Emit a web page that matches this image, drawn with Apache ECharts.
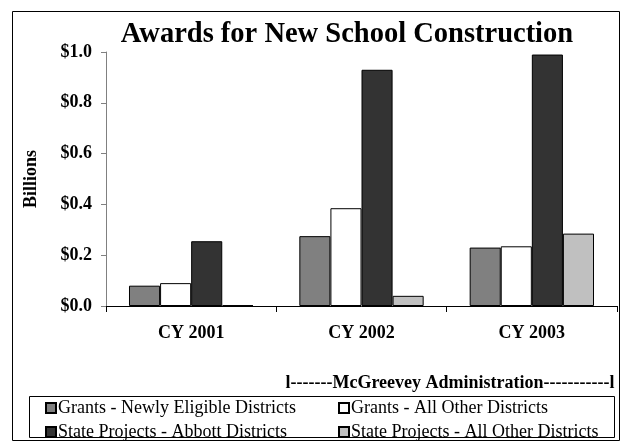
<!DOCTYPE html>
<html>
<head>
<meta charset="utf-8">
<script src="https://cdn.jsdelivr.net/npm/echarts@6/dist/echarts.min.js"></script>
<style>
  html, body { margin: 0; padding: 0; background: #fff; }
  #chart { width: 626px; height: 448px; }
</style>
</head>
<body>
<div id="chart"></div>
<script>
// Calendar years on the category axis
const years = ['CY 2001', 'CY 2002', 'CY 2003'];

// Award amounts, billions of dollars
const grantsNewlyEligible = [0.08, 0.275, 0.23];
const grantsAllOther = [0.09, 0.385, 0.235];
const stateAbbott = [0.255, 0.93, 0.99];
const stateAllOther = [0.003, 0.04, 0.285];

// Value axis ticks
const yTicks = [0, 0.2, 0.4, 0.6, 0.8, 1.0];

const seriesNames = [
  'Grants - Newly Eligible Districts',
  'Grants - All Other Districts',
  'State Projects - Abbott Districts',
  'State Projects - All Other Districts'
];
const seriesColors = ['#808080', '#ffffff', '#333333', '#c0c0c0'];
const seriesData = [grantsNewlyEligible, grantsAllOther, stateAbbott, stateAllOther];

const serif = '"Liberation Serif", "Times New Roman", serif';

const chart = echarts.init(document.getElementById('chart'), null, { renderer: 'canvas' });

// Two stacked legend columns inside one framed box
const legendCommon = {
  orient: 'vertical',
  top: 398,
  height: 50,
  padding: 0,
  itemWidth: 10,
  itemHeight: 10,
  itemGap: 4,
  icon: 'rect',
  textStyle: { fontFamily: serif, fontSize: 18, lineHeight: 20, color: '#000', padding: [0, 0, 0, -3] }
};

chart.setOption({
  animation: false,
  title: {
    text: 'Awards for New School Construction',
    left: 347,
    textAlign: 'center',
    top: 20,
    padding: 0,
    textStyle: { fontFamily: serif, fontSize: 28.5, fontWeight: 'bold', color: '#000' }
  },
  grid: { left: 106, right: 9, top: 52, bottom: 142, containLabel: false },
  legend: [
    Object.assign({ left: 45, data: [seriesNames[0], seriesNames[2]] }, legendCommon),
    Object.assign({ left: 338, data: [seriesNames[1], seriesNames[3]] }, legendCommon)
  ],
  xAxis: {
    type: 'category',
    data: years,
    axisLine: { lineStyle: { color: '#000', width: 1 } },
    axisTick: { show: true, length: 6, lineStyle: { color: '#000' } },
    axisLabel: { fontFamily: serif, fontSize: 18, fontWeight: 'bold', color: '#000', margin: 18 }
  },
  yAxis: {
    type: 'value',
    min: yTicks[0],
    max: yTicks[yTicks.length - 1],
    interval: 0.2,
    name: 'Billions',
    nameLocation: 'middle',
    nameGap: 66,
    nameRotate: 90,
    nameTextStyle: { fontFamily: serif, fontSize: 18, fontWeight: 'bold', color: '#000' },
    axisLine: { show: true, lineStyle: { color: '#808080', width: 1 } },
    axisTick: { show: true, length: 5, lineStyle: { color: '#808080' } },
    splitLine: { show: false },
    axisLabel: {
      fontFamily: serif, fontSize: 18, fontWeight: 'bold', color: '#000', margin: 14,
      formatter: v => '$' + v.toFixed(1)
    }
  },
  series: seriesNames.map((name, i) => ({
    name: name,
    type: 'bar',
    data: seriesData[i],
    barGap: '0%',
    barCategoryGap: '27%',
    itemStyle: { color: seriesColors[i], borderColor: '#000', borderWidth: 1 }
  })),
  graphic: [
    {
      type: 'rect',
      shape: { x: 12.5, y: 11.5, width: 607, height: 429 },
      style: { fill: null, stroke: '#000', lineWidth: 1 },
      silent: true
    },
    {
      type: 'rect',
      shape: { x: 29.5, y: 396.5, width: 585, height: 41 },
      style: { fill: null, stroke: '#000', lineWidth: 1 },
      silent: true
    },
    {
      type: 'text',
      x: 450,
      y: 383,
      style: {
        text: 'l-------McGreevey Administration-----------l',
        font: 'bold 18px ' + serif,
        fill: '#000',
        align: 'center',
        verticalAlign: 'middle'
      }
    }
  ]
});
</script>
</body>
</html>
